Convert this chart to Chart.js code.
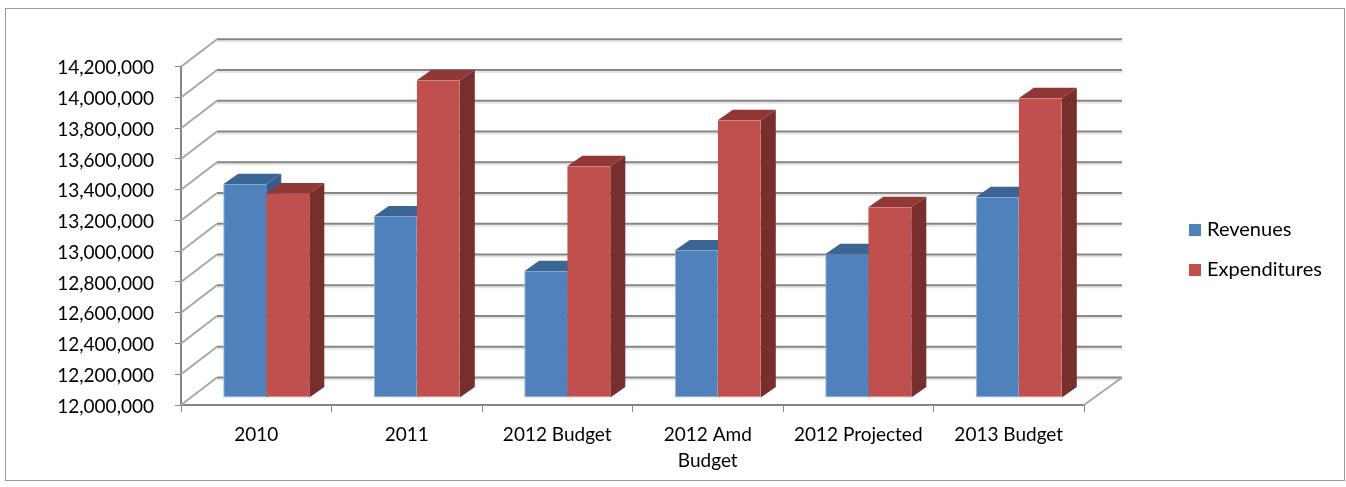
<!DOCTYPE html>
<html><head><meta charset="utf-8">
<style>html,body{margin:0;padding:0;background:#fff}canvas{display:block}</style>
<script src="https://cdn.jsdelivr.net/npm/chart.js@4"></script>
</head><body><canvas id="c" width="1346" height="487"></canvas>
<script>
const categories = ['2010','2011','2012 Budget',['2012 Amd','Budget'],'2012 Projected','2013 Budget'];
const revenues = [13390000,13180000,12824000,12960000,12935000,13305000];
const expenditures = [13330000,14066000,13507000,13806000,13240000,13950000];
const yMin = 12000000, yMax = 14200000, yStep = 200000;
const FONT = 'Lato';
const GREY = '#868686';
const DEPTH = {x:36,y:-27.5}, BAR_SHIFT = {x:10,y:-7}, BAR_DEPTH = {x:15,y:-10.5};
const faces = [{top:'#3A6594',side:'#355E8C'},{top:'#8F3835',side:'#772F2D'}];

function swatch(col){const k=document.createElement('canvas');k.width=12;k.height=12;const g=k.getContext('2d');g.fillStyle=col;g.fillRect(0,0,12,12);return k;}
const swatches=[swatch('#4F81BD'),swatch('#C0504D')];

function drawFaces(c,meta,f){
  meta.data.forEach(b=>{
    const p=b.getProps(['x','y','base','width'],true);
    const l=p.x-p.width/2,r=p.x+p.width/2,t=p.y,bt=p.base;
    c.fillStyle=f.side;
    c.beginPath();c.moveTo(r,t);c.lineTo(r+BAR_DEPTH.x,t+BAR_DEPTH.y);c.lineTo(r+BAR_DEPTH.x,bt+BAR_DEPTH.y);c.lineTo(r,bt);c.closePath();c.fill();
    c.fillStyle=f.top;
    c.beginPath();c.moveTo(l,t);c.lineTo(l+BAR_DEPTH.x,t+BAR_DEPTH.y);c.lineTo(r+BAR_DEPTH.x,t+BAR_DEPTH.y);c.lineTo(r,t);c.closePath();c.fill();
  });
}

const plugin3d = {
  id:'plugin3d',
  beforeDraw(chart){
    const c=chart.ctx;
    c.save();c.strokeStyle='#9a9a9a';c.lineWidth=1;c.strokeRect(5.5,8.5,1339,472);c.restore();
    if(!chart.$labelsNudged){
      chart.scales.y.getLabelItems().forEach(it=>{it.options.translation=[it.options.translation[0],it.options.translation[1]+1.5];});
      chart.$labelsNudged=true;
    }
  },
  beforeDatasetsDraw(chart){
    const c=chart.ctx,{left,right}=chart.chartArea,y=chart.scales.y;
    c.save();c.lineCap='butt';
    y.ticks.forEach(t=>{
      const py=y.getPixelForValue(t.value);
      const bx=left+DEPTH.x,by=py+DEPTH.y,ex=right+DEPTH.x+2;
      c.strokeStyle='#e6e6e6';c.lineWidth=2;
      c.beginPath();c.moveTo(bx,by+2);c.lineTo(ex,by+2);c.stroke();
      c.strokeStyle=GREY;c.lineWidth=2;
      c.beginPath();c.moveTo(bx,by);c.lineTo(ex,by);c.stroke();
      c.strokeStyle='#a8a8a8';c.lineWidth=2;
      c.beginPath();c.moveTo(left,py);c.lineTo(bx,by);c.stroke();
    });
    const py0=y.getPixelForValue(yMin);
    c.strokeStyle='#a8a8a8';c.lineWidth=2;
    c.beginPath();c.moveTo(right,py0);c.lineTo(right+DEPTH.x+2,py0+DEPTH.y);c.stroke();
    c.restore();
    c.save();c.translate(BAR_SHIFT.x,BAR_SHIFT.y);
  },
  beforeDatasetDraw(chart,args){
    if(args.index===1) return false;
    drawFaces(chart.ctx,args.meta,faces[0]);
  },
  afterDatasetsDraw(chart){
    const c=chart.ctx,meta=chart.getDatasetMeta(1);
    drawFaces(c,meta,faces[1]);
    meta.data.forEach(b=>b.draw(c));
    c.restore();
  },
  afterLayout(chart){
    const l=chart.legend;
    l.left=1173;l.right=1346;l.top=200;l.bottom=302;l.width=173;l.height=102;
  }
};

new Chart(document.getElementById('c'),{
  type:'bar',
  plugins:[plugin3d],
  data:{labels:categories,datasets:[
    {label:'Revenues',data:revenues,base:yMin,backgroundColor:'#4F81BD',borderColor:'#9DBDE2',borderWidth:{left:1,bottom:1},borderSkipped:false,clip:false},
    {label:'Expenditures',data:expenditures,base:yMin,backgroundColor:'#C0504D',borderColor:'#DDA3A1',borderWidth:{bottom:1},borderSkipped:false,clip:false}
  ]},
  options:{
    responsive:false,animation:false,devicePixelRatio:1,
    layout:{padding:{left:0,top:66.7,right:262,bottom:0}},
    datasets:{bar:{categoryPercentage:0.572,barPercentage:1}},
    plugins:{
      tooltip:{enabled:false},title:{display:false},
      legend:{
        position:'chartArea',align:'start',
        labels:{
          font:{family:FONT,size:20},color:'#000',usePointStyle:true,pointStyleWidth:4,boxHeight:12,padding:20,
          generateLabels(chart){
            return Chart.defaults.plugins.legend.labels.generateLabels(chart).map((it,i)=>Object.assign(it,{pointStyle:swatches[i]}));
          }
        }
      }
    },
    scales:{
      x:{
        grid:{drawOnChartArea:false,drawTicks:true,tickLength:7,color:GREY,offset:true},
        border:{color:GREY,width:2},
        ticks:{font:{family:FONT,size:19,lineHeight:1.37},color:'#000',padding:10,maxRotation:0,minRotation:0,autoSkip:false},
        afterFit(s){s.height=82;}
      },
      y:{
        min:yMin,max:yMax,
        grid:{drawOnChartArea:false,drawTicks:true,tickLength:6,color:GREY},
        border:{color:GREY,width:2},
        ticks:{stepSize:yStep,font:{family:FONT,size:19},color:'#000',padding:21,callback:v=>v.toLocaleString('en-US')},
        afterFit(s){s.width=181;}
      }
    }
  }
});
</script></body></html>
